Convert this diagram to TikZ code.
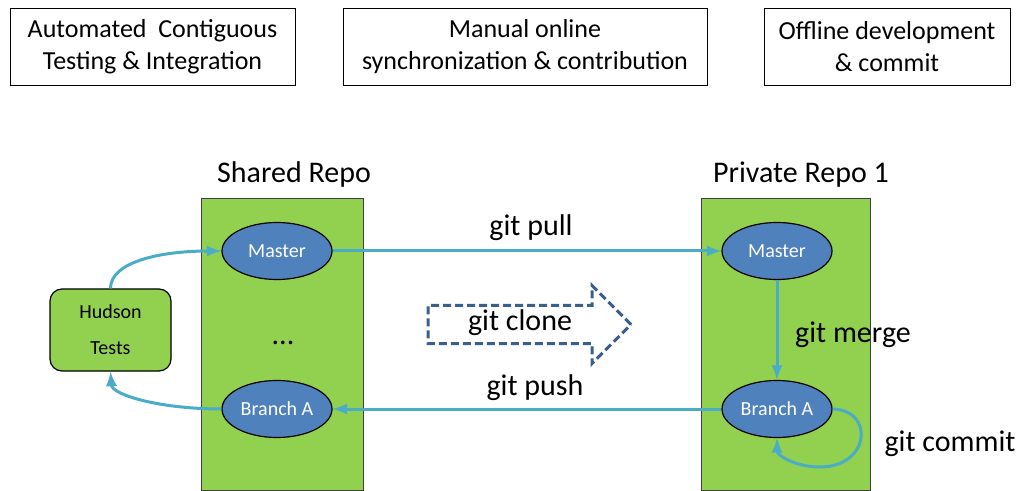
\documentclass[tikz,border=0pt]{standalone}
\usepackage{fontspec}
\setmainfont{Carlito}
\usetikzlibrary{shapes.geometric, shapes.arrows, arrows}
\definecolor{repogreen}{HTML}{92D050}
\definecolor{branchblue}{HTML}{4F81BD}
\definecolor{linkcyan}{HTML}{4BACC6}
\definecolor{clonenavy}{HTML}{3A5F8F}
\tikzstyle{topbox} = [rectangle, draw=black, align=center, minimum height=38.5pt, font=\fontsize{13}{16}\selectfont]
\tikzstyle{repo} = [rectangle, draw=black!75, fill=repogreen, minimum height=146pt]
\tikzstyle{branch} = [ellipse, draw=black, line width=0.6pt, fill=branchblue, text=white, inner xsep=1pt, minimum width=55pt, minimum height=28.5pt, font=\fontsize{10}{12}\selectfont]
\tikzstyle{tests} = [rectangle, rounded corners=6pt, draw=black, line width=0.6pt, fill=repogreen, minimum width=60.5pt, minimum height=41pt, align=center, font=\fontsize{10}{18}\selectfont]
\tikzstyle{title} = [font=\fontsize{15}{18}\selectfont]
\tikzstyle{arrow} = [line width=1.5pt, draw=linkcyan, -latex]
\tikzstyle{clone} = [single arrow, draw=clonenavy, line width=1.5pt, dash pattern=on 4pt off 2pt, single arrow head extend=10pt, minimum height=101.5pt, text height=8pt, text depth=2.5pt, inner ysep=3.5pt, font=\fontsize{15}{18}\selectfont]

\begin{document}
\begin{tikzpicture}[x=0.5pt, y=-0.5pt]
\useasboundingbox (0,0) rectangle (1021,491);

% top row
\node (auto) [topbox, minimum width=142.5pt] at (152.5,46.5) {Automated\ \ Contiguous\\Testing \& Integration};
\node (manual) [topbox, minimum width=182pt] at (525,46.5) {Manual online\\synchronization \& contribution};
\node (offline) [topbox, minimum width=123pt] at (887,46.5) {Offline development\\\& commit};

% repositories
\node (shared) [repo, minimum width=81pt] at (282,344) {};
\node (private) [repo, minimum width=84.5pt] at (785.5,344) {};
\node (sharedtitle) [title] at (294,175) {Shared Repo};
\node (privatetitle) [title] at (801,175) {Private Repo 1};

\node (smaster) [branch] at (277,251) {Master};
\node (sbranch) [branch, below of=smaster, node distance=79pt] {Branch A};
\node (dots) [title] at (283,343) {...};
\node (pmaster) [branch] at (777,251) {Master};
\node (pbranch) [branch, below of=pmaster, node distance=79pt] {Branch A};

\node (hudson) [tests] at (110.5,330) {Hudson\\Tests};
\node (clone) [clone] at (520,324.5) {git clone};

\draw [arrow] (smaster) -- node [title, above=1pt, xshift=2pt] {git pull} (pmaster);
\draw [arrow] (pbranch) -- node [title, above=0pt, xshift=4pt] {git push} (sbranch);
\draw [arrow] (pmaster) -- node [title, right=5pt, yshift=-2.5pt] {git merge} (pbranch);
\draw [arrow] (pbranch.east) .. controls (875,410) and (870,467) .. (820,467) .. controls (795,467) and (777,455) .. (pbranch.south);
\node (commit) [title] at (950,444) {git commit};
\draw [arrow] (hudson.north) .. controls (110.5,262) and (160,251) .. (smaster.west);
\draw [arrow] (sbranch.west) .. controls (160,409) and (112,395) .. (hudson.south);
\end{tikzpicture}
\end{document}
